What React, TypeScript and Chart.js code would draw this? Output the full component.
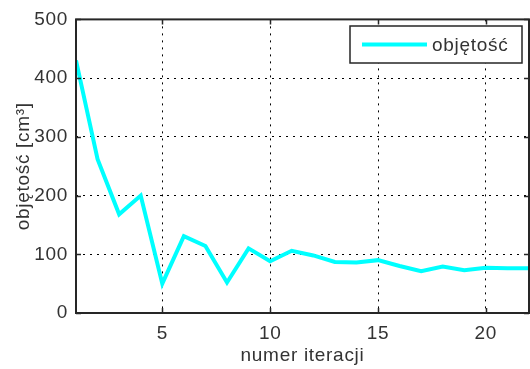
import React, { useEffect, useRef } from "react";
import { Chart, registerables } from "chart.js";

Chart.register(...registerables);

const iterations = [1, 2, 3, 4, 5, 6, 7, 8, 9, 10, 11, 12, 13, 14, 15, 16, 17, 18, 19, 20, 21, 22];
const volume = [430, 262, 168, 200, 50, 131, 114, 52, 110, 88, 106, 98, 87, 86, 90, 80, 71, 79, 73, 77, 76, 76];
const xTicks = [5, 10, 15, 20];
const yTicks = [0, 100, 200, 300, 400, 500];
const seriesLabel = "objętość";
const xTitle = "numer iteracji";
const yTitle = "objętość [cm³]";

const FONT = "'Liberation Sans', Arial, sans-serif";
const SPACING = "0.7px";
const TEXT = "#333333";

const spacingPlugin = {
  id: "spacing",
  beforeDraw(chart: any) {
    (chart.ctx as any).letterSpacing = SPACING;
  },
};

const framePlugin = {
  id: "frame",
  afterDatasetsDraw(chart: any) {
    const { ctx, chartArea } = chart;
    const { left, right, top, bottom } = chartArea;
    const xs = chart.scales.x;
    const ys = chart.scales.y;
    ctx.save();
    ctx.strokeStyle = "#262626";
    ctx.lineWidth = 1.5;
    ctx.setLineDash([]);
    ctx.beginPath();
    const tl = 5;
    for (const v of xTicks) {
      const px = Math.round(xs.getPixelForValue(v)) + 0.5;
      ctx.moveTo(px, bottom);
      ctx.lineTo(px, bottom - tl);
      ctx.moveTo(px, top);
      ctx.lineTo(px, top + tl);
    }
    for (const v of yTicks) {
      const py = Math.round(ys.getPixelForValue(v)) + 0.5;
      ctx.moveTo(left, py);
      ctx.lineTo(left + tl, py);
      ctx.moveTo(right, py);
      ctx.lineTo(right - tl, py);
    }
    ctx.stroke();
    ctx.lineWidth = 2;
    ctx.strokeRect(left, top, right - left, bottom - top);

    // legend
    const lx = 350, ly = 26, lw = 172, lh = 37;
    ctx.fillStyle = "#ffffff";
    ctx.fillRect(lx, ly, lw, lh);
    ctx.strokeStyle = "#262626";
    ctx.lineWidth = 1.5;
    ctx.strokeRect(lx, ly, lw, lh);
    ctx.strokeStyle = "#00ffff";
    ctx.lineWidth = 4;
    ctx.beginPath();
    ctx.moveTo(362, ly + lh / 2);
    ctx.lineTo(427, ly + lh / 2);
    ctx.stroke();
    ctx.fillStyle = TEXT;
    ctx.font = `19px ${FONT}`;
    ctx.letterSpacing = SPACING;
    ctx.textBaseline = "middle";
    ctx.textAlign = "left";
    ctx.fillText(seriesLabel, 432, ly + lh / 2 + 1);
    ctx.restore();
  },
};

export default function App() {
  const ref = useRef<HTMLCanvasElement>(null);
  useEffect(() => {
    document.body.style.margin = "0";
    const chart = new Chart(ref.current!, {
      type: "line",
      data: {
        datasets: [
          {
            label: seriesLabel,
            data: iterations.map((x, i) => ({ x, y: volume[i] })),
            borderColor: "#00ffff",
            backgroundColor: "#00ffff",
            borderWidth: 4,
            pointRadius: 0,
            tension: 0,
            fill: false,
          },
        ],
      },
      options: {
        responsive: false,
        animation: false,
        layout: { padding: { top: 15, right: 1, left: 0, bottom: 0 } },
        plugins: { legend: { display: false }, tooltip: { enabled: false } },
        scales: {
          x: {
            type: "linear",
            min: 1,
            max: 22,
            afterBuildTicks: (s: any) => {
              s.ticks = xTicks.map((v) => ({ value: v }));
            },
            afterFit: (s: any) => {
              s.height = 56;
            },
            grid: { color: "#000", lineWidth: 1, drawTicks: false },
            border: { display: false, dash: [2, 5] },
            ticks: { color: TEXT, font: { family: FONT, size: 19 }, padding: 9, maxRotation: 0 },
            title: {
              display: true,
              text: xTitle,
              color: TEXT,
              font: { family: FONT, size: 19 },
              padding: { top: 0, bottom: 2 },
            },
          },
          y: {
            type: "linear",
            min: 0,
            max: 500,
            afterBuildTicks: (s: any) => {
              s.ticks = yTicks.map((v) => ({ value: v }));
            },
            afterFit: (s: any) => {
              s.width = 76;
            },
            grid: { color: "#000", lineWidth: 1, drawTicks: false },
            border: { display: false, dash: [2, 5] },
            ticks: { color: TEXT, font: { family: FONT, size: 19 }, padding: 8 },
            title: {
              display: true,
              text: yTitle,
              color: TEXT,
              font: { family: FONT, size: 19 },
              padding: { top: 12, bottom: 0 },
            },
          },
        },
      },
      plugins: [spacingPlugin, framePlugin],
    });
    return () => chart.destroy();
  }, []);
  return (
    <div style={{ position: "absolute", left: 0, top: 0, width: 530, height: 369, background: "#fff" }}>
      <canvas ref={ref} width={530} height={369} />
    </div>
  );
}
